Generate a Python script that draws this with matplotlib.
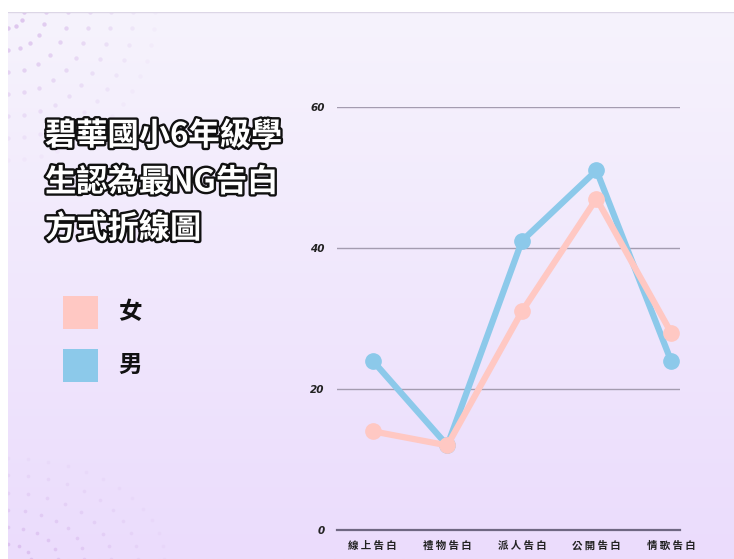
import matplotlib
matplotlib.use('Agg')
import matplotlib.pyplot as plt
import matplotlib.patheffects as pe
from matplotlib.patches import Rectangle
import numpy as np

plt.rcParams['font.family'] = ['Noto Sans CJK TC', 'DejaVu Sans']

# data
categories = ['線上告白', '禮物告白', '派人告白', '公開告白', '情歌告白']
female = [14, 12, 31, 47, 28]
male = [24, 12, 41, 51, 24]
yticks = [0, 20, 40, 60]
title_lines = ['碧華國小6年級學', '生認為最NG告白', '方式折線圖']

pink = '#FFC8C3'
blue = '#8CC9EA'

fig = plt.figure(figsize=(7.34, 5.59), dpi=100)
fig.patch.set_facecolor('white')

# background panel with vertical gradient
bg = fig.add_axes([8 / 734, 0, 1 - 8 / 734, 547 / 559])
grad = np.linspace(0, 1, 256).reshape(-1, 1)
top = np.array([0xF6, 0xF3, 0xFD]) / 255
bot = np.array([0xEB, 0xDC, 0xFC]) / 255
img = top[None, None, :] * (1 - grad[:, :, None]) + bot[None, None, :] * grad[:, :, None]
bg.imshow(img, aspect='auto', extent=[0, 1, 0, 1], origin='upper')
bg.set_xlim(0, 1)
bg.set_ylim(0, 1)
bg.axis('off')
bg.plot([0, 1], [1, 1], color='#DCD6E6', lw=1)

# decorative dots, top-left and bottom-left corners
for r in np.arange(0.03, 0.30, 0.04):
    n = int(r * 45) + 3
    a = np.linspace(0, np.pi / 2, n)
    alpha = max(0.05, 0.55 - r * 1.8)
    bg.scatter(r * np.cos(a) * 0.75, 1 - r * np.sin(a), s=10, color='#C79BE0', alpha=alpha, lw=0)
for r in np.arange(0.03, 0.22, 0.035):
    n = int(r * 50) + 3
    a = np.linspace(0, np.pi / 2, n)
    alpha = max(0.05, 0.45 - r * 1.8)
    bg.scatter(r * np.cos(a) * 0.75 * 1.4, r * np.sin(a) * 0.9, s=7, color='#C79BE0', alpha=alpha, lw=0)

# title (outlined text)
for i, line in enumerate(title_lines):
    fig.text(45 / 734, 1 - (136 + i * 46.5) / 559, line, fontsize=22.5, fontweight='black',
             color='white', va='center', ha='left',
             path_effects=[pe.withStroke(linewidth=3.4, foreground='#111111')])

# legend
for y, c, lab in [(312, pink, '女'), (365, blue, '男')]:
    fig.patches.append(Rectangle((63 / 734, 1 - (y + 17) / 559), 35 / 734, 33 / 559,
                                 transform=fig.transFigure, color=c, lw=0))
    fig.text(130 / 734, 1 - y / 559, lab, fontsize=17, fontweight='black', color='#111111',
             va='center', ha='center')

# chart
ax = fig.add_axes([337 / 734, 1 - 530 / 559, (680 - 337) / 734, (530 - 107) / 559])
ax.patch.set_alpha(0)
x = np.arange(len(categories))
ax.plot(x, male, color=blue, lw=4.5, marker='o', markersize=11, solid_capstyle='round', zorder=3)
ax.plot(x, female, color=pink, lw=4.5, marker='o', markersize=11, solid_capstyle='round', zorder=4)
ax.set_xlim(-0.48, 4.12)
ax.set_ylim(0, 60)
ax.set_yticks(yticks)
ax.set_yticklabels([str(v) for v in yticks], fontsize=7.5, fontweight='bold', style='italic',
                   family='DejaVu Sans', color='#222222')
ax.set_xticks(x)
ax.set_xticklabels([])
ax.tick_params(length=0)
ax.tick_params(axis='y', pad=9)
for xi, cat in zip(x, categories):
    ax.text(xi, -0.045, ' '.join(cat), transform=ax.get_xaxis_transform(),
            fontsize=7.5, fontweight='bold', color='#222222', ha='center', va='baseline')
for s in ax.spines.values():
    s.set_visible(False)
for v in yticks[1:]:
    ax.axhline(v, color='#A49CB0', lw=1, zorder=1)
ax.axhline(0, color='#6F6782', lw=1.6, zorder=1, clip_on=False)

fig.savefig('out.png', dpi=100)
